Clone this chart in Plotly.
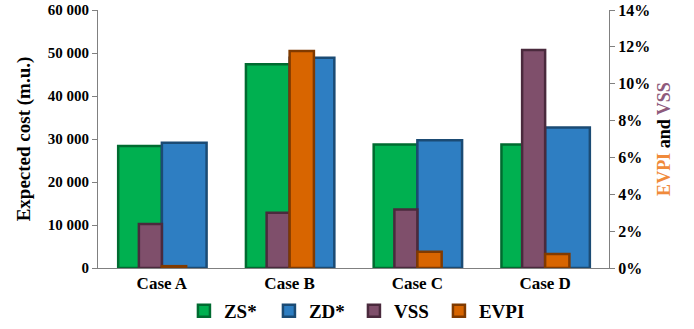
import plotly.graph_objects as go

# Cases compared
cases = ["Case A", "Case B", "Case C", "Case D"]

# Expected cost (m.u.), primary axis
zs_star = [28400, 47400, 28700, 28700]
zd_star = [29100, 48900, 29700, 32700]

# EVPI and VSS as share of cost, secondary axis
vss = [0.0239, 0.0300, 0.0318, 0.1183]
evpi = [0.0010, 0.1178, 0.0088, 0.0076]

font_family = "Liberation Serif"

fig = go.Figure()

def bar(name, y, color, edge, offset, width, axis):
    return go.Bar(
        name=name, x=cases, y=y, yaxis=axis,
        offset=offset, width=width,
        marker=dict(color=color, line=dict(color=edge, width=2.5)),
    )

fig.add_trace(bar("ZS*", zs_star, "#00B050", "#006B30", -0.342, 0.342, "y"))
fig.add_trace(bar("ZD*", zd_star, "#2E7EC2", "#1B4B74", 0.0, 0.35, "y"))
fig.add_trace(bar("VSS", vss, "#7F4F6B", "#4A2A3D", -0.18, 0.18, "y2"))
fig.add_trace(bar("EVPI", evpi, "#D86500", "#803A00", 0.0, 0.19, "y2"))

def axis_style(size):
    return dict(
        showline=True, linecolor="#808080", linewidth=1,
        ticks="outside", ticklen=5, tickcolor="#808080",
        showgrid=False, zeroline=False, automargin=False,
        tickfont=dict(family=font_family, size=size, color="black", weight="bold"),
    )

fig.update_layout(
    width=694, height=329,
    margin=dict(l=98, r=85, t=10, b=61, autoexpand=False),
    paper_bgcolor="white", plot_bgcolor="white",
    barmode="overlay",
    separators=". ",
    font=dict(family=font_family, color="black"),
    showlegend=True,
    legend=dict(
        orientation="h", xref="container", yref="container",
        x=0.51, xanchor="center", y=1 - 311 / 329, yanchor="middle",
        font=dict(family="serif", size=19, color="black", weight="bold"),
        traceorder="normal", itemwidth=30,
        entrywidth=40, entrywidthmode="pixels",
    ),
    xaxis=dict(
        showline=True, linecolor="#808080", linewidth=1,
        ticks="", showgrid=False, automargin=False,
        tickfont=dict(family=font_family, size=17, color="black", weight="bold"),
    ),
    yaxis=dict(
        range=[0, 60000], dtick=10000, tickformat=",d",
        title=dict(text="Expected cost (m.u.)", standoff=12,
                   font=dict(family=font_family, size=19, color="black", weight="bold")),
        **axis_style(15),
    ),
    yaxis2=dict(
        overlaying="y", side="right",
        range=[0, 0.14], dtick=0.02, tickformat=".0%",
        title=dict(
            text="<span style='color:#F08A3A'>EVPI</span> and <span style='color:#8E5A7C'>VSS</span>",
            standoff=8,
            font=dict(family=font_family, size=18, color="black", weight="bold"),
        ),
        **axis_style(16),
    ),
)

fig.write_html("out.html")
